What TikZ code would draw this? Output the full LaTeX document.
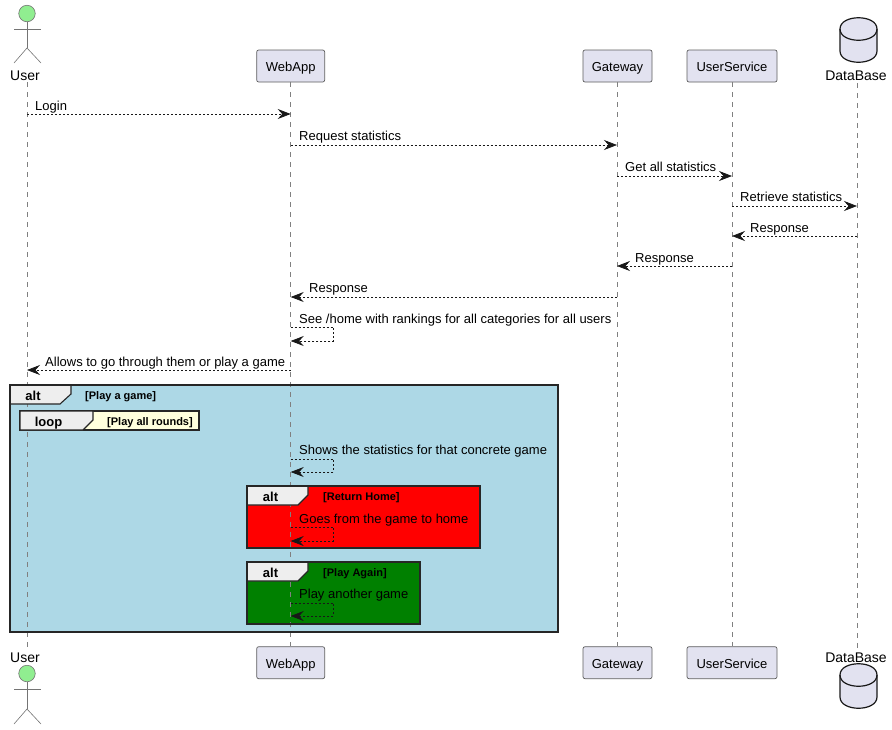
\documentclass[tikz,border=0pt]{standalone}
\usepackage{fontspec}
\setmainfont{Liberation Sans}
\usetikzlibrary{arrows.meta}
\definecolor{boxfill}{HTML}{E2E2F0}
\definecolor{ink}{HTML}{181818}
\definecolor{tabfill}{HTML}{EEEEEE}
\definecolor{headfill}{HTML}{90EE90}
\definecolor{altblue}{HTML}{ADD8E6}
\definecolor{loopyellow}{HTML}{FFFFDD}
\definecolor{altgreen}{HTML}{008000}
\tikzset{part/.style={draw=ink!70,fill=boxfill,rounded corners=2pt,line width=0.7pt,minimum height=32pt,inner sep=0pt,text height=11.4pt,text depth=0pt,font=\fontsize{13}{15}\selectfont}}
\tikzset{title/.style={inner sep=0pt,anchor=base,font=\fontsize{14}{16}\selectfont}}
\tikzset{msg/.style={draw=ink,line width=0.7pt,dash pattern=on 2pt off 2pt,-{Stealth[length=13pt,width=10pt,inset=4.5pt]}}}
\tikzset{life/.style={draw=ink!55,line width=0.6pt,dash pattern=on 5pt off 5pt}}
\tikzset{lbl/.style={inner sep=0pt,anchor=base west,font=\fontsize{13}{15}\selectfont}}
\tikzset{frame/.style={draw=black!85,line width=1.4pt}}
\tikzset{tab/.style={draw=black!85,line width=1.1pt,fill=tabfill}}
\tikzset{tag/.style={inner sep=0pt,anchor=base,font=\fontsize{13}{15}\selectfont\bfseries}}
\tikzset{cond/.style={inner sep=0pt,anchor=base west,font=\fontsize{11}{13}\selectfont\bfseries}}
\tikzset{limb/.style={draw=ink!60,line width=0.6pt}}
\tikzset{head/.style={circle,draw=ink!60,fill=headfill,line width=0.6pt,minimum size=16.5pt,inner sep=0pt}}
\tikzset{dbase/.style={draw=ink,fill=boxfill,line width=1.2pt}}

\begin{document}
\begin{tikzpicture}[x=1pt,y=-1pt]
\useasboundingbox (0,0) rectangle (892,729);

%frames
\fill[altblue] (10,385) rectangle (558,632);
\fill[red] (247,486) rectangle (480,548);
\fill[altgreen] (247,562) rectangle (420,624);

%actors
\node[head] (uhead) at (27,13.5) {};
\coordinate (uhip) at (27,48);
\coordinate (uarml) at (14,29);
\coordinate (uarmr) at (41,29);
\coordinate (ufootl) at (14,63);
\coordinate (ufootr) at (41,63);
\draw[limb] (uhead) -- (uhip);
\draw[limb] (uarml) -- (uarmr);
\draw[limb] (ufootl) -- (uhip) -- (ufootr);
\node[head] (bhead) at (27,673.5) {};
\coordinate (bhip) at (27,709);
\coordinate (barml) at (14,689);
\coordinate (barmr) at (41,689);
\coordinate (bfootl) at (14,724);
\coordinate (bfootr) at (41,724);
\draw[limb] (bhead) -- (bhip);
\draw[limb] (barml) -- (barmr);
\draw[limb] (bfootl) -- (bhip) -- (bfootr);

%top row
\node[title] (user) at (25,80) {User};
\node[part,minimum width=68pt] (web) at (290.7,66) {WebApp};
\node[part,minimum width=69pt] (gate) at (617.5,66) {Gateway};
\node[part,minimum width=90pt] (serv) at (732,66) {UserService};
\node[title] (data) at (856,80) {DataBase};

%bottom row
\node[title] (userb) at (25,662) {User};
\node[part,minimum width=68pt] (webb) at (290.7,662.7) {WebApp};
\node[part,minimum width=69pt] (gateb) at (617.5,662.7) {Gateway};
\node[part,minimum width=90pt] (servb) at (732,662.7) {UserService};
\node[title] (datab) at (856,662) {DataBase};

%drums
\foreach \dy in {0,646} {
\begin{scope}[shift={(0,\dy)}]
\draw[dbase] (840,29) .. controls (840,14) and (877,14) .. (877,29) -- (877,51) .. controls (877,66) and (840,66) .. (840,51) -- cycle;
\draw[dbase,fill=none] (840,29) .. controls (840,44) and (877,44) .. (877,29);
\end{scope}
}

%lifelines
\coordinate (utop) at (27,82);
\coordinate (ubot) at (27,650);
\coordinate (dtop) at (857,83);
\coordinate (dbot) at (857,650);
\draw[life] (utop) -- (ubot);
\draw[life] (web.south) -- (webb.north);
\draw[life] (gate.south) -- (gateb.north);
\draw[life] (serv.south) -- (servb.north);
\draw[life] (dtop) -- (dbot);

%tabs
\draw[tab] (10,385) -- (71,385) -- (71,394) -- (60,404) -- (10,404) -- cycle;
\draw[frame,fill=loopyellow] (20,411) rectangle (199,430);
\draw[tab] (20,411) -- (93,411) -- (93,420) -- (83,430) -- (20,430) -- cycle;
\draw[tab] (247,486) -- (308,486) -- (308,495) -- (298,505) -- (247,505) -- cycle;
\draw[tab] (247,562) -- (308,562) -- (308,571) -- (298,581) -- (247,581) -- cycle;
\draw[frame] (10,385) rectangle (558,632);
\draw[frame] (247,486) rectangle (480,548);
\draw[frame] (247,562) rectangle (420,624);
\node[tag] (t1) at (33,400) {alt};
\node[tag] (t2) at (48.5,426) {loop};
\node[tag] (t3) at (270.5,501) {alt};
\node[tag] (t4) at (270.5,577) {alt};
\node[cond] (c1) at (85,399) {[Play a game]};
\node[cond] (c2) at (107,425) {[Play all rounds]};
\node[cond] (c3) at (323,500) {[Return Home]};
\node[cond] (c4) at (323,576) {[Play Again]};

%messages
\coordinate (u1) at (27,114);
\coordinate (w1) at (290.7,114);
\coordinate (w2) at (290.7,145);
\coordinate (g2) at (617,145);
\coordinate (g3) at (617,176);
\coordinate (s3) at (732,176);
\coordinate (s4) at (732,206);
\coordinate (d4) at (857,206);
\coordinate (d5) at (857,236);
\coordinate (s5) at (732,236);
\coordinate (s6) at (732,266);
\coordinate (g6) at (617,266);
\coordinate (g7) at (617,297);
\coordinate (w7) at (290.7,297);
\coordinate (w8) at (290.7,327);
\coordinate (r8) at (333.5,327);
\coordinate (q8) at (333.5,341);
\coordinate (e8) at (290.7,341);
\coordinate (w9) at (290.7,370);
\coordinate (u9) at (27,370);
\coordinate (w10) at (290.7,459);
\coordinate (r10) at (333.5,459);
\coordinate (q10) at (333.5,472);
\coordinate (e10) at (290.7,472);
\coordinate (w11) at (290.7,527);
\coordinate (r11) at (333.5,527);
\coordinate (q11) at (333.5,541);
\coordinate (e11) at (290.7,541);
\coordinate (w12) at (290.7,603);
\coordinate (r12) at (333.5,603);
\coordinate (q12) at (333.5,616);
\coordinate (e12) at (290.7,616);
\draw[msg] (u1) -- (w1);
\draw[msg] (w2) -- (g2);
\draw[msg] (g3) -- (s3);
\draw[msg] (s4) -- (d4);
\draw[msg] (d5) -- (s5);
\draw[msg] (s6) -- (g6);
\draw[msg] (g7) -- (w7);
\draw[msg] (w8) -- (r8) -- (q8) -- (e8);
\draw[msg] (w9) -- (u9);
\draw[msg] (w10) -- (r10) -- (q10) -- (e10);
\draw[msg] (w11) -- (r11) -- (q11) -- (e11);
\draw[msg] (w12) -- (r12) -- (q12) -- (e12);

%message texts
\node[lbl] (m1) at (35,110) {Login};
\node[lbl] (m2) at (299,140) {Request statistics};
\node[lbl] (m3) at (625,171) {Get all statistics};
\node[lbl] (m4) at (740,201) {Retrieve statistics};
\node[lbl] (m5) at (750,232) {Response};
\node[lbl] (m6) at (635,262) {Response};
\node[lbl] (m7) at (309,292) {Response};
\node[lbl] (m8) at (299,323) {See /home with rankings for all categories for all users};
\node[lbl] (m9) at (45,366) {Allows to go through them or play a game};
\node[lbl] (m10) at (299,454) {Shows the statistics for that concrete game};
\node[lbl] (m11) at (299,523) {Goes from the game to home};
\node[lbl] (m12) at (299,598) {Play another game};
\end{tikzpicture}
\end{document}
